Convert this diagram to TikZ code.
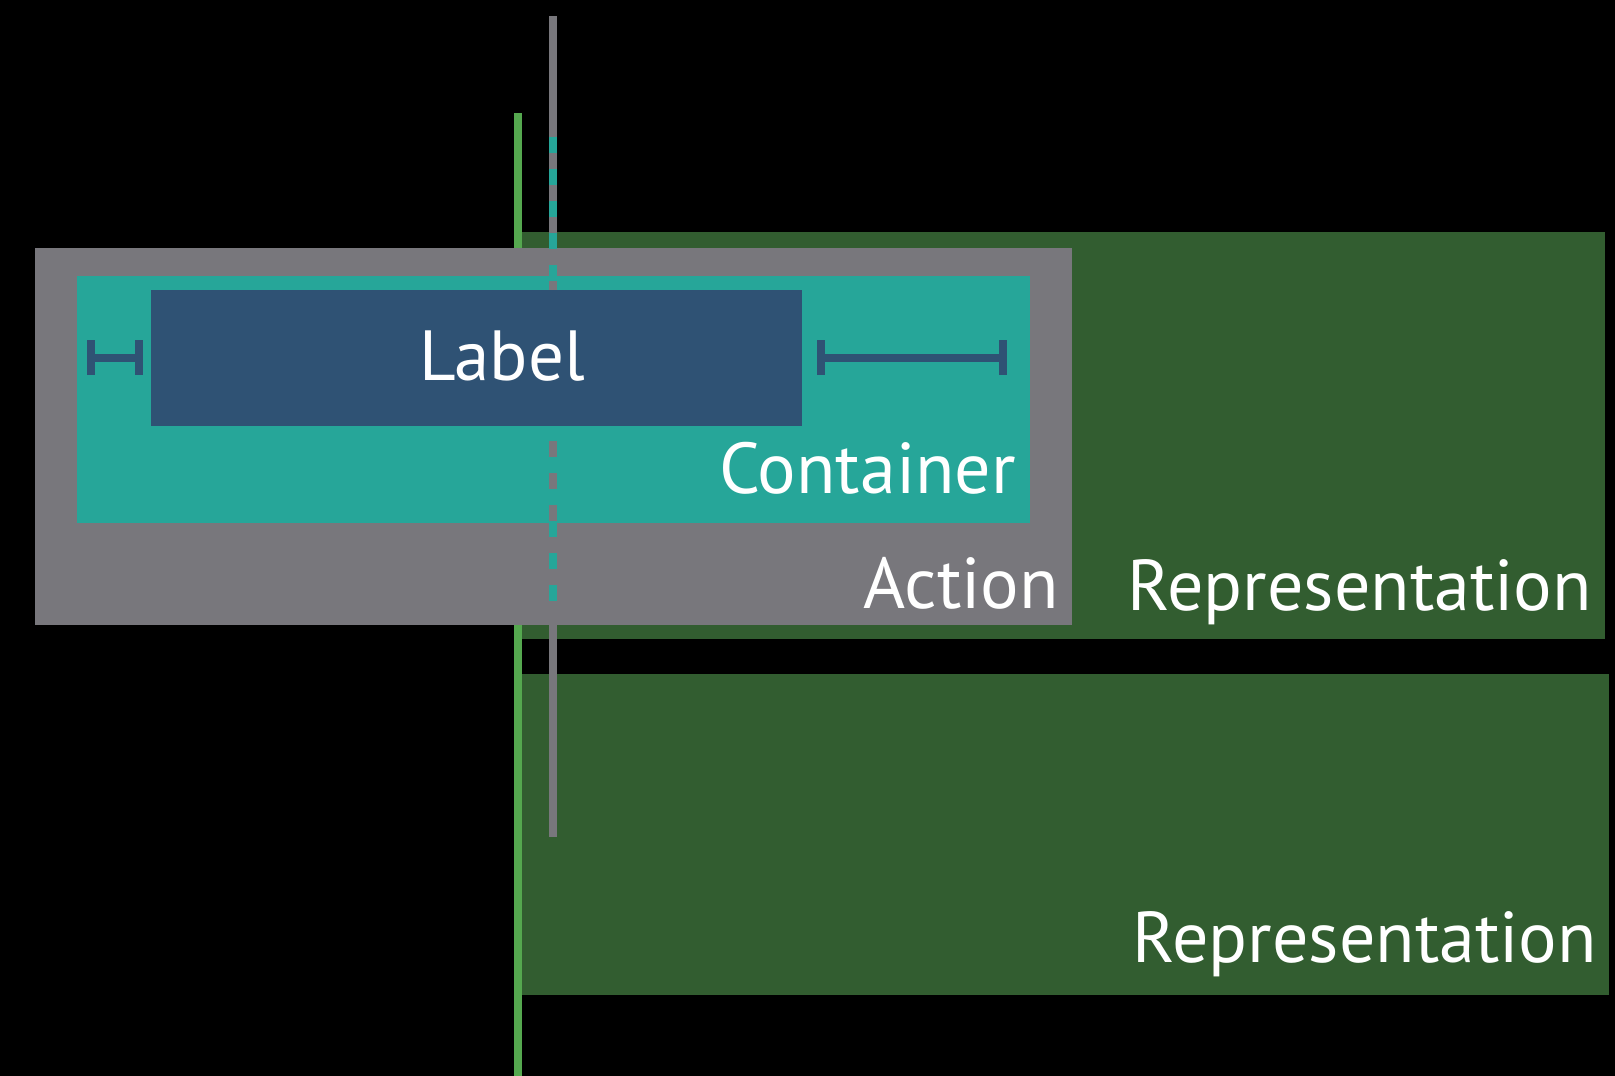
\documentclass[tikz,border=0pt]{standalone}
\usepackage{fontspec}
\setmainfont{PT Sans}
\usetikzlibrary{positioning}

\definecolor{actiongray}{RGB}{120,119,124}
\definecolor{containerteal}{RGB}{38,166,153}
\definecolor{labelblue}{RGB}{47,82,116}
\definecolor{repgreen}{RGB}{50,93,48}
\definecolor{guidegreen}{RGB}{85,168,79}

\begin{document}
\begin{tikzpicture}[
    x=1pt, y=-1pt,
    box/.style={rectangle, inner sep=0pt, outer sep=0pt, anchor=north west},
    caption/.style={text=white, inner sep=0pt, anchor=base east, font=\fontsize{72}{86}\selectfont},
    guide/.style={line width=8pt},
    gap/.style={draw=labelblue, line width=8pt}
]

    % Background ===========================
    \useasboundingbox[fill=black] (0,0) rectangle (1615,1076);

    % Representations ===========================
    \node[box, fill=repgreen, minimum width=1083pt, minimum height=407pt] (rep1) at (522,232) {};
    \node[box, fill=repgreen, minimum width=1087pt, minimum height=321pt] (rep2) at (522,674) {};

    % Leading guide ===========================
    \coordinate (gtop) at (518,113);
    \coordinate (gbot) at (518,1076);
    \draw[guide, guidegreen] (gtop) -- (gbot);

    % Action and Container ===========================
    \node[box, fill=actiongray, minimum width=1037pt, minimum height=377pt] (action) at (35,248) {};
    \node[box, fill=containerteal, minimum width=953pt, minimum height=247pt] (container) at (77,276) {};

    % Centre guide ===========================
    \coordinate (ctop) at (553,16);
    \coordinate (cbot) at (553,837);
    \coordinate (dtop) at (553,137);
    \coordinate (dbot) at (553,601);
    \draw[guide, actiongray] (ctop) -- (cbot);
    \draw[guide, containerteal, dash pattern=on 16pt off 16pt] (dtop) -- (dbot);

    % Label ===========================
    \node[box, fill=labelblue, minimum width=651pt, minimum height=136pt] (label) at (151,290) {};
    \node[caption, anchor=base, font=\fontsize{71}{85}\selectfont] (labeltext) at (502,380) {Label};

    % Padding bars ===========================
    \foreach \a/\b [count=\i] in {91/139, 821/1003} {
        \coordinate (p\i l) at (\a,357.5);
        \coordinate (p\i r) at (\b,357.5);
        \draw[gap] (p\i l) -- (p\i r);
        \draw[gap] ([yshift=17.5pt]p\i l) -- ([yshift=-17.5pt]p\i l);
        \draw[gap] ([yshift=17.5pt]p\i r) -- ([yshift=-17.5pt]p\i r);
    }

    % Captions ===========================
    \node[caption] (containertext) at (1016,493) {Container};
    \node[caption] (actiontext) at (1059,608) {Action};
    \node[caption] (rep1text) at (1592,610) {Representation};
    \node[caption] (rep2text) at (1597,962) {Representation};

\end{tikzpicture}
\end{document}
